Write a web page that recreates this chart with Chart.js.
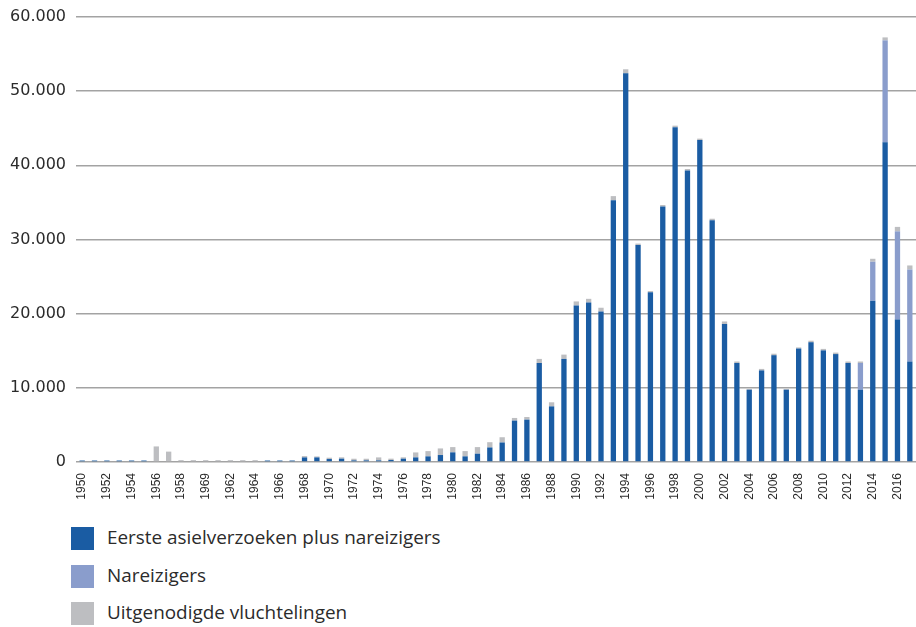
<!DOCTYPE html>
<html>
<head>
<meta charset="utf-8">
<script src="https://cdn.jsdelivr.net/npm/chart.js@4"></script>
<style>
  html, body { margin: 0; padding: 0; background: #fff; }
  #wrap { position: relative; width: 916px; height: 627px; overflow: hidden; }
  #c { position: absolute; left: 0; top: 0; }
  #legend { position: absolute; left: 71px; top: 527px; font-family: "Open Sans", sans-serif; font-size: 18.9px; color: #2b2b2b; }
  .item { position: relative; height: 23px; margin-bottom: 14.7px; }
  .sw { position: absolute; left: 0; top: 0; width: 23px; height: 23px; }
  .lb { position: absolute; left: 36px; top: -1px; line-height: 23px; white-space: nowrap; }
</style>
</head>
<body>
<div id="wrap">
  <canvas id="c" width="916" height="512"></canvas>
  <div id="legend"></div>
</div>
<script>
const years = ["1950","1951","1952","1953","1954","1955","1956","1957","1958","1959",
  "1969","1961","1962","1963","1964","1965","1966","1967","1968","1969",
  "1970","1971","1972","1973","1974","1975","1976","1977","1978","1979",
  "1980","1981","1982","1983","1984","1985","1986","1987","1988","1989",
  "1990","1991","1992","1993","1994","1995","1996","1997","1998","1999",
  "2000","2001","2002","2003","2004","2005","2006","2007","2008","2009",
  "2010","2011","2012","2013","2014","2015","2016","2017"];

const eersteAsiel = [200,200,200,200,200,200,0,0,0,0,
  0,0,0,0,0,200,200,200,620,620,
  400,450,220,220,220,270,450,620,760,940,
  1300,760,1120,1960,2630,5580,5710,13350,7500,13900,
  21100,21500,20300,35300,52400,29250,22900,34450,45150,39300,
  43400,32600,18600,13350,9750,12350,14400,9750,15300,16150,
  15050,14550,13350,9750,21750,43100,19200,13550];

const nareizigers = [0,0,0,0,0,0,0,0,0,0,
  0,0,0,0,0,0,0,0,0,0,
  0,0,0,0,0,0,0,0,0,0,
  0,0,0,0,0,0,0,0,0,0,
  0,0,0,0,0,0,0,0,0,0,
  0,0,0,0,0,0,0,0,0,0,
  0,0,0,3600,5250,13750,11900,12400];

const uitgenodigd = [0,0,0,0,0,0,2100,1400,250,250,
  250,250,250,250,250,0,0,0,180,130,
  180,180,220,220,400,180,180,670,710,890,
  710,710,890,710,710,360,360,550,550,580,
  550,500,500,550,550,200,150,200,200,200,
  200,200,350,200,100,200,200,100,150,200,
  200,200,200,200,400,400,600,550];

const seriesNames = ["Eerste asielverzoeken plus nareizigers", "Nareizigers", "Uitgenodigde vluchtelingen"];
const seriesColors = ["#1a5ca3", "#8a9dcc", "#bdbec1"];
const yTicks = [0, 10000, 20000, 30000, 40000, 50000, 60000];

function fmt(v) {
  return String(v).replace(/\B(?=(\d{3})+(?!\d))/g, ".");
}

const seriesData = [eersteAsiel, nareizigers, uitgenodigd];
const datasets = seriesNames.map((n, i) => ({
  label: n,
  data: seriesData[i],
  backgroundColor: seriesColors[i],
  borderWidth: 0,
  categoryPercentage: 1.0,
  barPercentage: 0.43
}));

new Chart(document.getElementById('c'), {
  type: 'bar',
  data: { labels: years, datasets },
  options: {
    responsive: false,
    animation: false,
    devicePixelRatio: 1,
    layout: { padding: 0 },
    plugins: { legend: { display: false }, tooltip: { enabled: false } },
    scales: {
      x: {
        stacked: true,
        grid: { display: false, drawTicks: false },
        border: { display: false },
        ticks: {
          autoSkip: false,
          maxRotation: 90,
          minRotation: 90,
          padding: 11,
          color: '#2b2b2b',
          font: { family: '"Liberation Sans Narrow", "Liberation Sans"', size: 12 },
          callback: function(v, i) { return i % 2 === 0 ? years[i] : ''; }
        },
        afterFit: function(s) { s.height = 50; s.paddingLeft = 0; s.paddingRight = 0; }
      },
      y: {
        stacked: true,
        min: 0,
        max: 60000,
        afterBuildTicks: function(s) { s.ticks = yTicks.map(v => ({ value: v })); },
        grid: { color: '#a3a3a3', lineWidth: 1.5, drawTicks: false },
        border: { display: false },
        ticks: {
          padding: 10,
          color: '#2b2b2b',
          font: { family: 'DejaVu Sans', size: 16 },
          callback: function(v) { return fmt(v); }
        },
        afterFit: function(s) { s.width = 76; s.paddingTop = 17; s.paddingBottom = 0; }
      }
    }
  }
});

const legend = document.getElementById('legend');
seriesNames.forEach((n, i) => {
  const it = document.createElement('div');
  it.className = 'item';
  const sw = document.createElement('div');
  sw.className = 'sw';
  sw.style.background = seriesColors[i];
  const lb = document.createElement('div');
  lb.className = 'lb';
  lb.textContent = n;
  it.appendChild(sw); it.appendChild(lb);
  legend.appendChild(it);
});
</script>
</body>
</html>
